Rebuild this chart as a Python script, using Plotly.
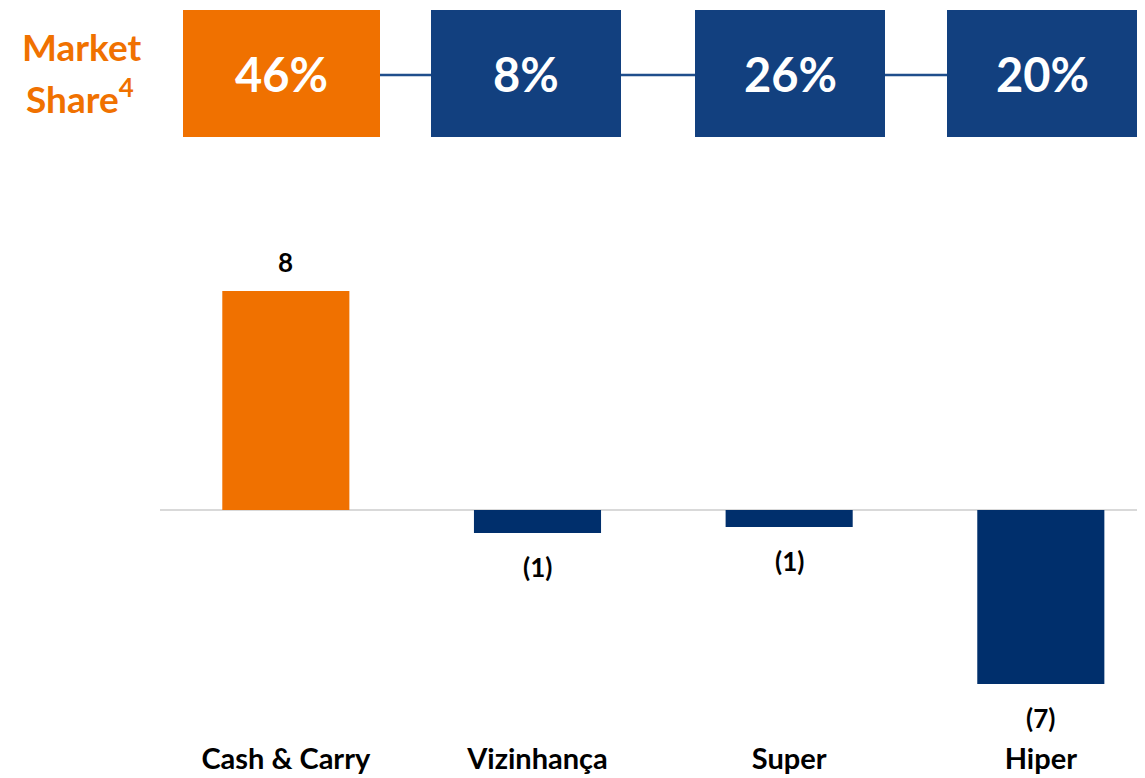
import plotly.graph_objects as go

categories = ["Cash & Carry", "Vizinhança", "Super", "Hiper"]
values = [7.99, -0.84, -0.62, -6.35]
value_labels = ["8", "(1)", "(1)", "(7)"]
share_labels = ["46%", "8%", "26%", "20%"]

ORANGE = "#F07100"
BAR_BLUE = "#002F6C"
BOX_BLUE = "#12407F"
LINE_BLUE = "#1F4E8C"
bar_colors = [ORANGE, BAR_BLUE, BAR_BLUE, BAR_BLUE]
box_colors = [ORANGE, BOX_BLUE, BOX_BLUE, BOX_BLUE]
FONT = "Lato"

# browser body margin is 8px: figure is drawn offset by (8, 8)
OFF = 8
W, H = 1145 - OFF, 778 - OFF


def px(x):
    return (x - OFF) / W


def py(y):
    return 1 - (y - OFF) / H


fig = go.Figure()
fig.add_trace(go.Bar(
    x=categories, y=values, marker=dict(color=bar_colors, line=dict(width=0)),
    width=0.505, cliponaxis=False, hoverinfo="skip",
))

annotations = []
for c, v, lab in zip(categories, values, value_labels):
    annotations.append(dict(x=c, y=v, xref="x", yref="y", text="<b>%s</b>" % lab,
                            showarrow=False, xanchor="center", yanchor="middle",
                            yshift=29 if v > 0 else -34,
                            font=dict(family=FONT, size=26, color="#000000")))

# top market share boxes (reference pixel positions converted to paper coords)
box_px = [(183, 380), (431, 621), (695, 885), (947, 1137)]
by0, by1 = 10, 137
shapes = [dict(type="line", xref="paper", yref="paper",
               x0=px(380), x1=px(947), y0=py(75), y1=py(75),
               line=dict(color=LINE_BLUE, width=2.5), layer="below")]
for (x0, x1), lab, col in zip(box_px, share_labels, box_colors):
    shapes.append(dict(type="rect", xref="paper", yref="paper",
                       x0=px(x0), x1=px(x1), y0=py(by1), y1=py(by0),
                       fillcolor=col, line=dict(width=0), layer="above"))
    annotations.append(dict(xref="paper", yref="paper", x=px((x0 + x1) / 2),
                            y=py((by0 + by1) / 2), text="<b>%s</b>" % lab,
                            showarrow=False, xanchor="center", yanchor="middle",
                            font=dict(family=FONT, size=47, color="white")))
annotations.append(dict(xref="paper", yref="paper", x=px(81), y=py(47),
                        text="<b>Market</b>", showarrow=False,
                        xanchor="center", yanchor="middle",
                        font=dict(family=FONT, size=37, color=ORANGE)))
annotations.append(dict(xref="paper", yref="paper", x=px(80), y=py(96),
                        text="<b>Share<sup>4</sup></b>", showarrow=False,
                        xanchor="center", yanchor="middle",
                        font=dict(family=FONT, size=37, color=ORANGE)))

fig.update_layout(
    width=W, height=H, margin=dict(l=0, r=0, t=0, b=0, autoexpand=False),
    plot_bgcolor="white", paper_bgcolor="white", showlegend=False,
    shapes=shapes, annotations=annotations,
    xaxis=dict(domain=[px(160), 1], range=[-0.5, 3.414], showgrid=False,
               showline=False, ticks="", tickfont=dict(family=FONT, size=29, color="#000000"),
               tickprefix="<b>", ticksuffix="</b>"),
    yaxis=dict(domain=[py(739), py(240)], range=[-229 / 27.4, 270 / 27.4],
               showgrid=False, showticklabels=False, zeroline=True,
               zerolinecolor="#D9D9D9", zerolinewidth=2),
)

fig.write_html("out.html")
